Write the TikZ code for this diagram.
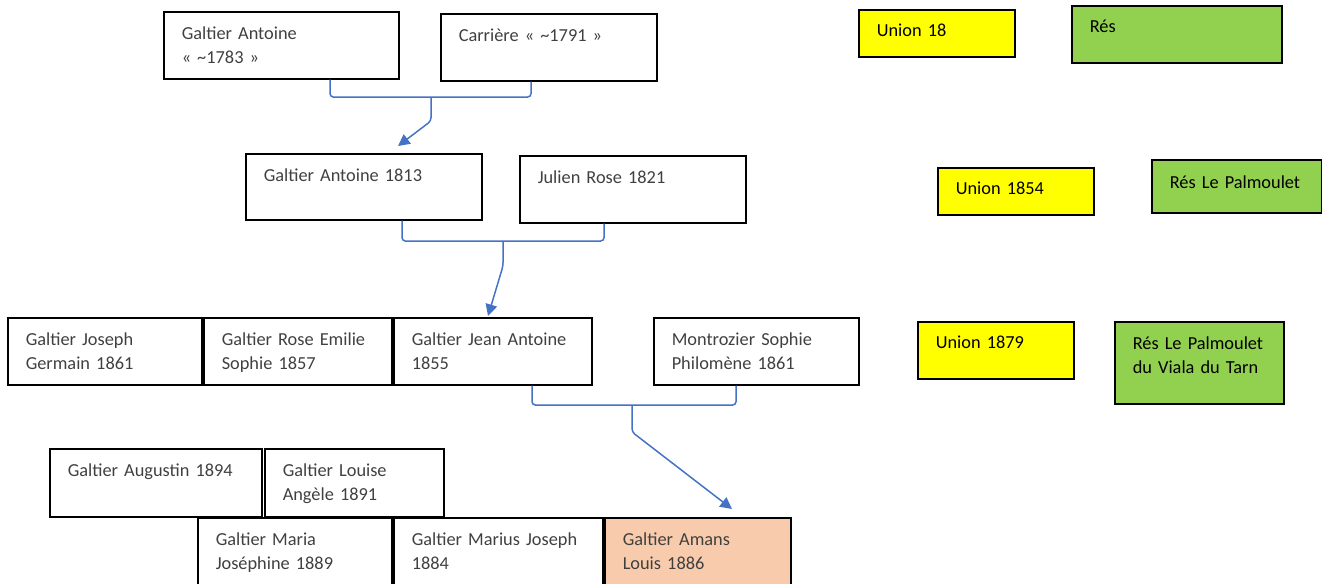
\documentclass[tikz,border=0pt]{standalone}
\usepackage{fontspec}
\setmainfont{Carlito}
\usetikzlibrary{arrows.meta, positioning}
\definecolor{linkblue}{RGB}{68,114,196}
\definecolor{unionyellow}{RGB}{255,255,0}
\definecolor{resgreen}{RGB}{146,208,80}
\definecolor{selfpeach}{RGB}{248,203,173}
\definecolor{txtgray}{RGB}{64,64,64}
\tikzset{
  person/.style={rectangle, draw=black, line width=0.9pt, anchor=north west,
    align=left, inner xsep=10.8pt, inner ysep=0pt,
    text height=16.8pt, text depth=23.4pt, text=txtgray,
    font=\fontsize{11pt}{14.1pt}\selectfont},
  union/.style={person, fill=unionyellow, text=black, text height=16.2pt},
  residence/.style={person, fill=resgreen, text=black},
  link/.style={draw=linkblue, line width=0.9pt, rounded corners=2pt},
  arrow/.style={link, -{Triangle[length=7pt, width=7pt]}},
}

\begin{document}
\begin{tikzpicture}[x=0.6pt, y=-0.6pt]
  \useasboundingbox (0,0) rectangle (1322,583);

  % grands-parents
  \node[person, text width=119.4pt] (ga1783) at (163,11)
    {Galtier Antoine\\« \textasciitilde1783 »};
  \node[person, text width=108pt] (carr) at (440,13)
    {Carrière « \textasciitilde1791 »};

  % parents
  \node[person, text width=120pt, text depth=22.8pt] (ga1813) at (245,153)
    {Galtier Antoine 1813};
  \node[person, text width=114pt] (jr) at (519,155) {Julien Rose 1821};

  % enfants 1855-1861
  \node[person, text width=94.8pt] (gjg) at (7,317) {Galtier Joseph\\Germain 1861};
  \node[person, text width=91.2pt, right=0.3pt of gjg] (gres)
    {Galtier Rose Emilie\\Sophie 1857};
  \node[person, text width=97.2pt, right=0.3pt of gres] (gja)
    {Galtier Jean Antoine\\1855};
  \node[person, text width=101.4pt] (msp) at (653,317)
    {Montrozier Sophie\\Philomène 1861};

  % enfants 1884-1894
  \node[person, text width=105.6pt, text depth=24pt] (gaug) at (49,448)
    {Galtier Augustin 1894};
  \node[person, text width=85.8pt, text depth=24pt, right=0.9pt of gaug] (gla)
    {Galtier Louise\\Angèle 1891};
  \node[person, text width=94.8pt, text depth=27pt] (gmj) at (197,517)
    {Galtier Maria\\Joséphine 1889};
  \node[person, text width=103.8pt, text depth=27pt, right=0.3pt of gmj] (gmaj)
    {Galtier Marius Joseph\\1884};
  \node[person, text width=90pt, text depth=27pt, fill=selfpeach,
    right=0.3pt of gmaj] (gal) {Galtier Amans\\Louis 1886};

  % unions et residences
  \node[union, text width=72pt, text depth=12pt] (u18) at (858,9) {Union 18};
  \node[residence, text width=104.4pt, text height=16.2pt, text depth=18pt]
    (res18) at (1071,5) {Rés};
  \node[union, text width=72pt, text depth=12pt] (u1854) at (937,167)
    {Union 1854};
  \node[residence, text width=80.4pt, text height=17.4pt, text depth=14.4pt]
    (res1854) at (1151,159) {Rés Le Palmoulet};
  \node[union, text width=72pt, text depth=18pt] (u1879) at (917,321)
    {Union 1879};
  \node[residence, text width=79.8pt, text depth=32.4pt] (res1879) at (1114,321)
    {Rés Le Palmoulet\\du Viala du Tarn};

  % liens
  \coordinate (j1) at (431,97);
  \coordinate (k1) at (431,121);
  \coordinate (t1) at (398,146);
  \draw[link] (ga1783.south -| 330,0) |- (j1) -| (carr.south -| 531,0);
  \draw[arrow] (j1) -- (k1) -- (t1);

  \coordinate (j2) at (503,241);
  \coordinate (k2) at (503,266);
  \coordinate (t2) at (488,316);
  \draw[link] (ga1813.south -| 402,0) |- (j2) -| (jr.south -| 604,0);
  \draw[arrow] (j2) -- (k2) -- (t2);

  \coordinate (j3) at (632,405);
  \coordinate (k3) at (632,432);
  \coordinate (t3) at (732,509);
  \draw[link] (gja.south -| 532,0) |- (j3) -| (msp.south -| 736,0);
  \draw[arrow] (j3) -- (k3) -- (t3);
\end{tikzpicture}
\end{document}
